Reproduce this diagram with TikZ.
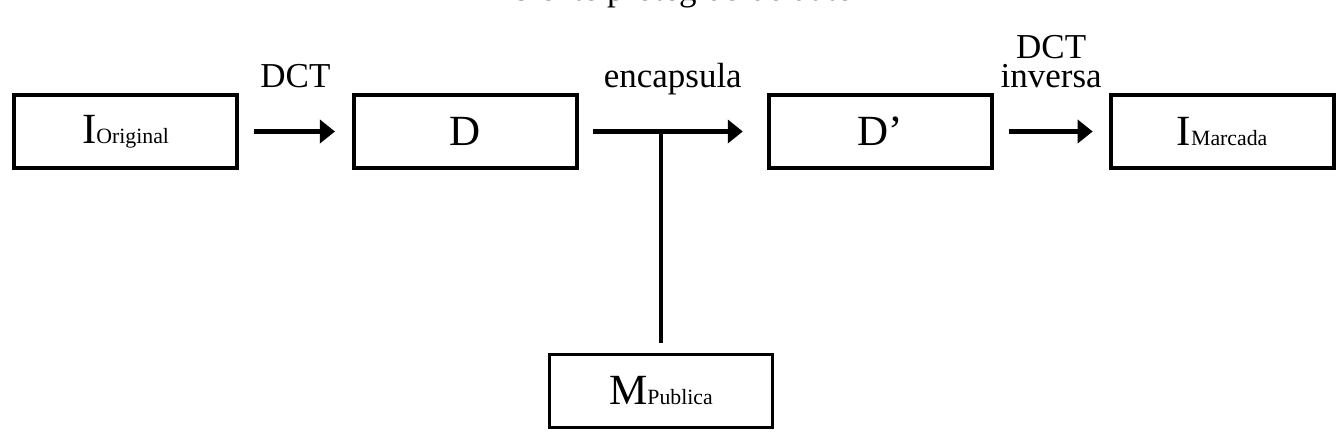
\documentclass[tikz,border=0pt]{standalone}
\usepackage{fontspec}
\setmainfont{Liberation Serif}
\usetikzlibrary{arrows.meta,positioning}
\newcommand{\subtx}[1]{{\fontsize{12.4pt}{14pt}\selectfont #1}}

\begin{document}
\begin{tikzpicture}[
  node distance=2.26cm,
  box/.style={draw, rectangle, line width=2.2pt, minimum width=4.46cm, minimum height=1.46cm, inner sep=0pt, font=\fontsize{24.5pt}{28pt}\selectfont},
  arr/.style={-{Triangle[length=0.3cm, width=0.46cm]}, line width=2.4pt},
  lbl/.style={inner sep=0pt, align=center, font=\fontsize{19.9pt}{16pt}\selectfont}
]
\useasboundingbox (0,0) rectangle (26.84,-8.78);
\node[inner sep=0pt, font=\fontsize{19.9pt}{24pt}\selectfont, anchor=base] (title) at (13.26,-0.02) {Ambiente protegido do autor};
\node[box] (iorig) at (2.51,-2.63) {I\subtx{Original}};
\node[box, right=of iorig] (dbox) {D};
\node[box, right=3.76cm of dbox] (dprime) {D’};
\node[box, right=2.3cm of dprime] (imarc) {I\subtx{Marcada}};
\node[box] (mpub) at (13.22,-7.82) {M\subtx{Publica}};
\draw[arr, shorten <=0.3cm, shorten >=0.34cm] (iorig) -- node[lbl, anchor=base, yshift=0.87cm]{DCT} (dbox);
\draw[arr, shorten <=0.28cm, shorten >=0.48cm] (dbox) -- node[lbl, anchor=base, yshift=0.87cm]{encapsula} (dprime);
\draw[line width=2.2pt, shorten <=0.2cm] (mpub.north) -- (mpub.north |- dbox.east);
\draw[arr, shorten <=0.3cm, shorten >=0.32cm] (dprime) -- node[lbl, anchor=south, yshift=0.84cm]{DCT\\inversa} (imarc);
\end{tikzpicture}
\end{document}
